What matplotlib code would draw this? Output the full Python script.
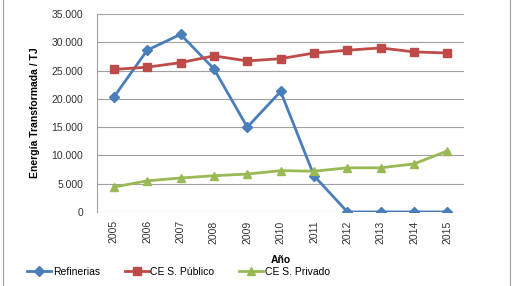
import matplotlib.pyplot as plt
import numpy as np

anios = ["2005", "2006", "2007", "2008", "2009", "2010", "2011", "2012", "2013", "2014", "2015"]
refinerias = [20300, 28600, 31400, 25300, 15000, 21300, 6400, 0, 0, 0, 0]
ce_publico = [25200, 25600, 26400, 27600, 26700, 27100, 28100, 28600, 29000, 28300, 28100]
ce_privado = [4400, 5500, 6000, 6400, 6700, 7300, 7200, 7800, 7800, 8500, 10800]

plt.rcParams['font.family'] = ['Liberation Sans', 'DejaVu Sans']
fig = plt.figure(figsize=(5.14, 2.86), dpi=100)
ax = fig.add_axes([0.189, 0.259, 0.714, 0.692])
x = np.arange(len(anios))
ax.plot(x, refinerias, color="#4A7EBB", marker="D", markersize=5, linewidth=2, label="Refinerias")
ax.plot(x, ce_publico, color="#BE4B48", marker="s", markersize=6, linewidth=2, label="CE S. Público")
ax.plot(x, ce_privado, color="#98B954", marker="^", markersize=6, linewidth=2, label="CE S. Privado")

ax.set_xlim(-0.5, len(anios) - 0.5)
ax.set_ylim(0, 35000)
ax.set_yticks(range(0, 35001, 5000))
ax.set_yticklabels([f"{v:,}".replace(",", ".") for v in range(0, 35001, 5000)], fontsize=7.5, color="#333333")
ax.set_xticks(x)
ax.set_xticklabels(anios, rotation=90, fontsize=7.5, color="#333333")
ax.tick_params(axis="y", length=0, pad=10)
ax.tick_params(axis="x", length=0, pad=6)
ax.grid(axis="y", color="#A0A0A0", linewidth=0.8)
ax.set_axisbelow(True)
for s in ["top", "right", "bottom"]:
    ax.spines[s].set_visible(False)
ax.spines["left"].set_color("#A0A0A0")
ax.set_ylabel("Energía Transformada / TJ", fontsize=7.5, fontweight="bold", labelpad=8)
ax.set_xlabel("Año", fontsize=7.5, fontweight="bold", labelpad=8)

fig.legend(loc="center left", bbox_to_anchor=(0.053, 0.049), ncol=3, frameon=False, fontsize=7.5,
           handlelength=2.3, columnspacing=2.4, handletextpad=0.15, borderpad=0, borderaxespad=0)

fig.patches.append(plt.Rectangle((0.006, -0.01), 0.987, 1.02, transform=fig.transFigure,
                                 fill=False, edgecolor="#A0A0A0", linewidth=0.8))
fig.savefig("out.png", dpi=100)
